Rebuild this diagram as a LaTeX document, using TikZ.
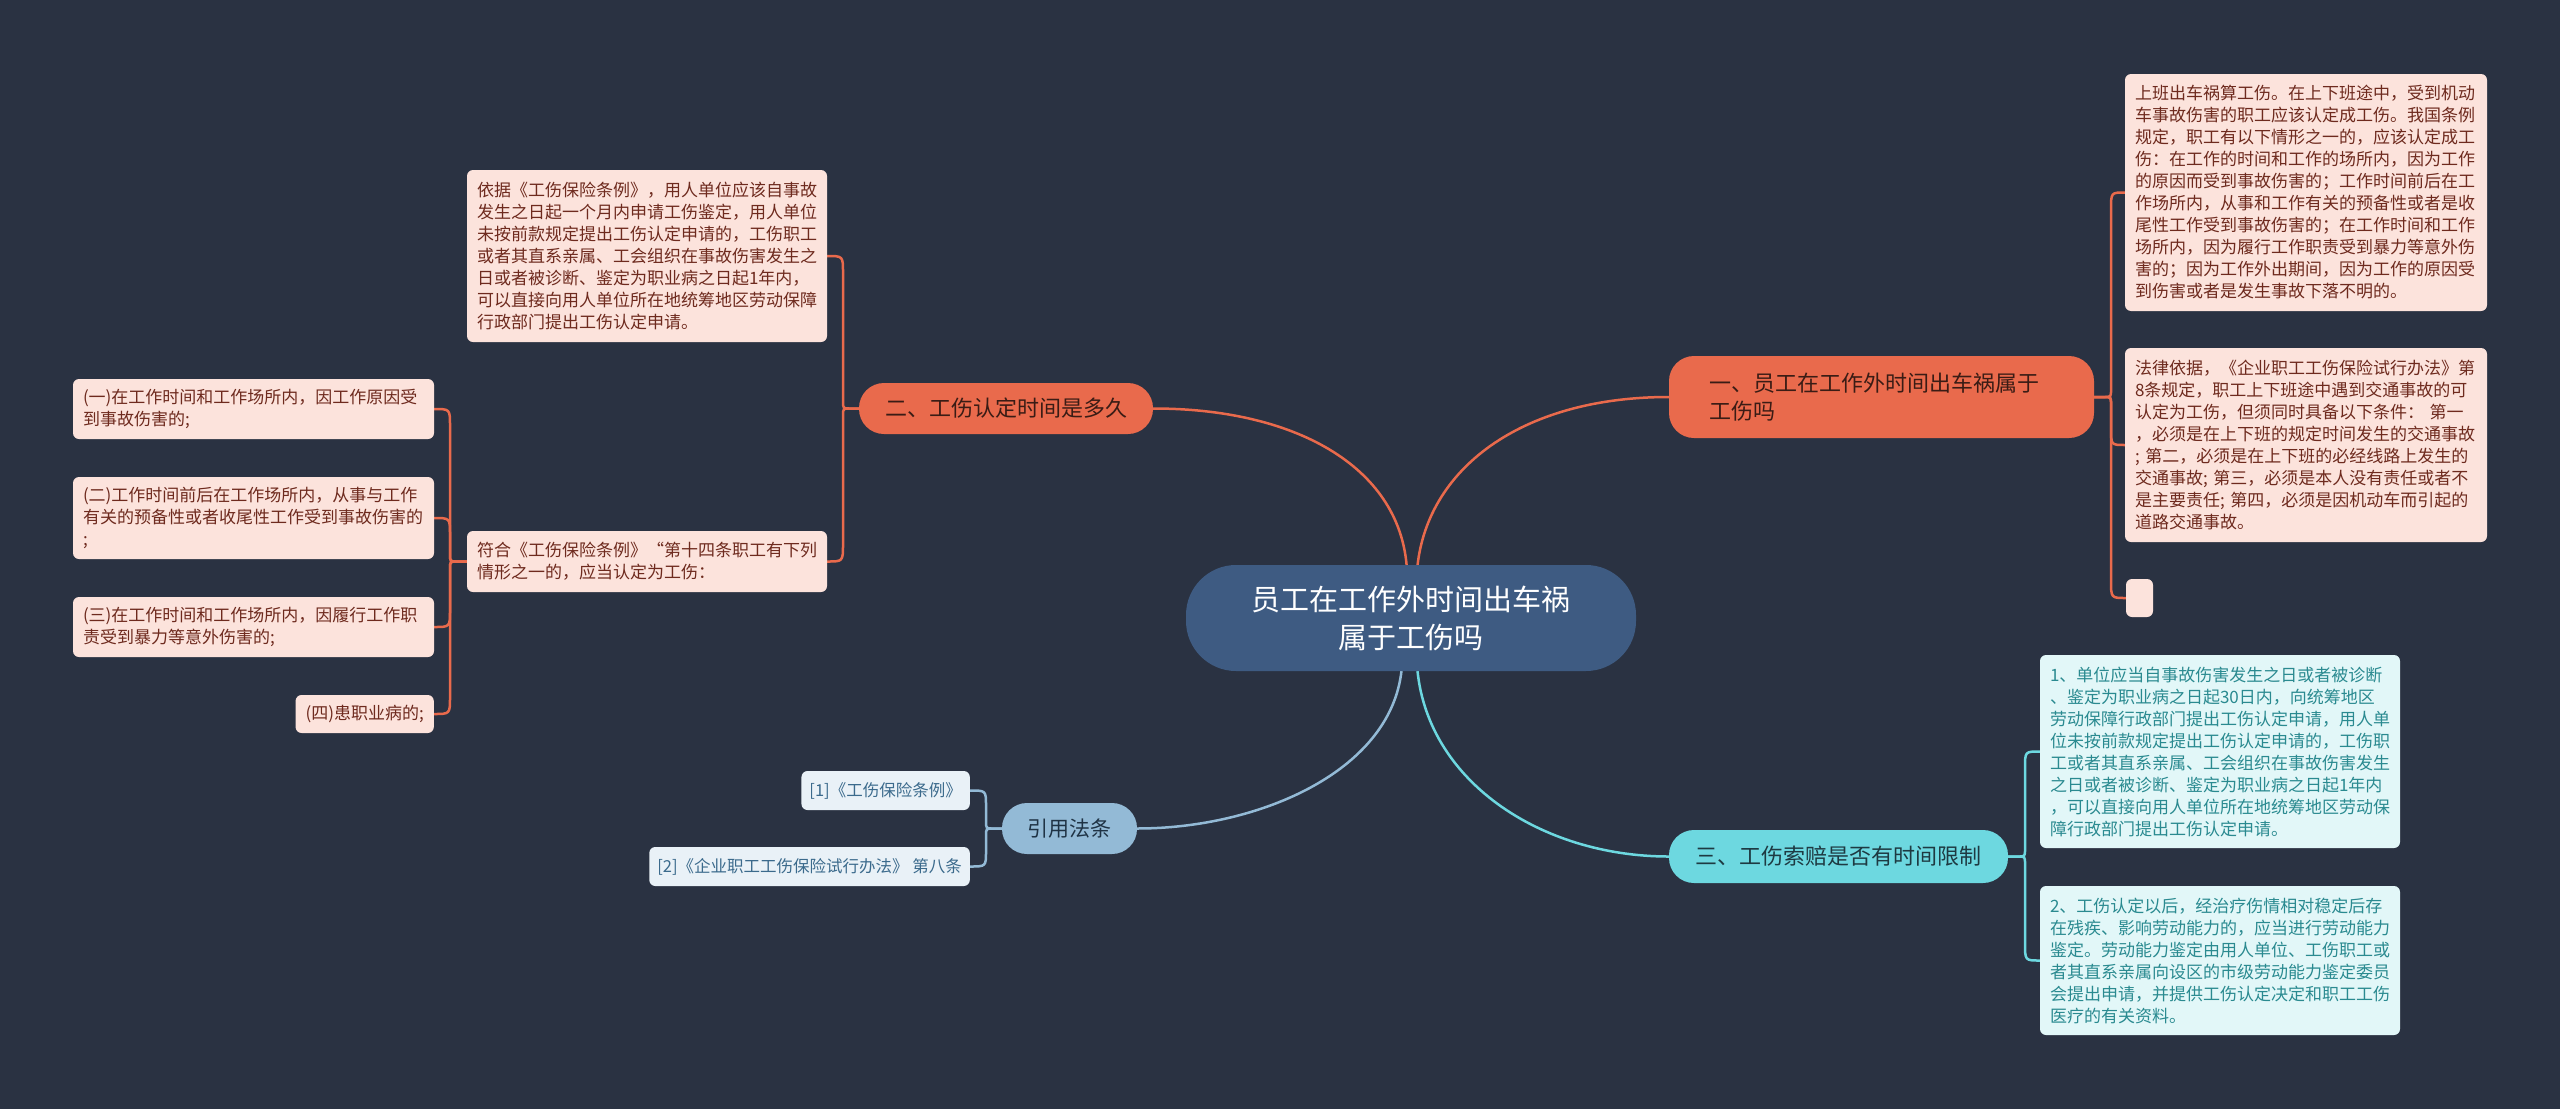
\documentclass[tikz,border=0pt]{standalone}
\usepackage{fontspec}
\newfontfamily\cjk{Noto Sans CJK SC}
\usetikzlibrary{calc}
\definecolor{bgc}{HTML}{2A3242}
\definecolor{cfill}{HTML}{3E5B82}
\definecolor{oc}{HTML}{E96A4C}
\definecolor{ofill}{HTML}{FCE3DC}
\definecolor{otext}{HTML}{6E2A1E}
\definecolor{obtext}{HTML}{3A1C15}
\definecolor{cc}{HTML}{6DD8E0}
\definecolor{cfillb}{HTML}{E2F7F8}
\definecolor{ctext}{HTML}{2A8A90}
\definecolor{cbtext}{HTML}{1E3A42}
\definecolor{bc}{HTML}{93BAD6}
\definecolor{bfill}{HTML}{E9F1F7}
\definecolor{btext}{HTML}{3B6A8C}
\definecolor{bbtext}{HTML}{1F3345}
\pgfdeclarelayer{bgl}
\pgfdeclarelayer{lnl}
\pgfsetlayers{bgl,lnl,main}
\tikzset{
  leaf/.style={font={\cjk\fontsize{17}{22}\selectfont}, align=left, inner xsep=10pt, inner ysep=4pt, rounded corners=6pt},
  oleaf/.style={leaf, fill=ofill, text=otext},
  cleaf/.style={leaf, fill=cfillb, text=ctext},
  bleaf/.style={leaf, fill=bfill, text=btext, font={\cjk\fontsize{16.5}{21}\selectfont}, inner xsep=8pt},
  branch/.style={font={\cjk\fontsize{22}{28}\selectfont}, inner sep=0pt},
  obranch/.style={branch, fill=oc, text=obtext, rounded corners=25pt},
  cbranch/.style={branch, fill=cc, text=cbtext, rounded corners=25pt},
  bbranch/.style={branch, fill=bc, text=bbtext, rounded corners=25pt},
  oline/.style={draw=oc, line width=2.5pt},
  cline/.style={draw=cc, line width=2.5pt},
  bline/.style={draw=bc, line width=2.5pt},
}
\begin{document}
\begin{tikzpicture}[x=1pt,y=-1pt]
\begin{pgfonlayer}{bgl}
\fill[bgc] (0,0) rectangle (2560,1109);
\end{pgfonlayer}
\useasboundingbox (0,0) rectangle (2560,1109);

% central
\node[fill=cfill, rounded corners=50pt, minimum width=450pt, minimum height=106pt, inner sep=0pt, align=center, text=white, font={\cjk\fontsize{29}{38}\selectfont}] (c) at (1411,618) {员工在工作外时间出车祸\\属于工伤吗};

% branches
\node[obranch, minimum width=425pt, minimum height=82pt, text width=345pt, inner xsep=40pt, align=left] (b1) at (1881.5,397) {一、员工在工作外时间出车祸属于\\工伤吗};
\node[obranch, minimum width=294pt, minimum height=51pt, align=center] (b2) at (1006,408.5) {二、工伤认定时间是多久};
\node[cbranch, minimum width=339pt, minimum height=53pt, align=center] (b3) at (1838.5,856.5) {三、工伤索赔是否有时间限制};
\node[bbranch, minimum width=135pt, minimum height=51pt, align=center, font={\cjk\fontsize{21}{26}\selectfont}] (b4) at (1069.5,828.5) {引用法条};

% branch 1 leaves
\node[oleaf, text width=342pt, minimum height=237pt] (r1) at (2306,192.5) {上班出车祸算工伤。在上下班途中，受到机动\\车事故伤害的职工应该认定成工伤。我国条例\\规定，职工有以下情形之一的，应该认定成工\\伤：在工作的时间和工作的场所内，因为工作\\的原因而受到事故伤害的；工作时间前后在工\\作场所内，从事和工作有关的预备性或者是收\\尾性工作受到事故伤害的；在工作时间和工作\\场所内，因为履行工作职责受到暴力等意外伤\\害的；因为工作外出期间，因为工作的原因受\\到伤害或者是发生事故下落不明的。};
\node[oleaf, text width=342pt, minimum height=194pt] (r2) at (2306,445) {法律依据，《企业职工工伤保险试行办法》第\\8条规定，职工上下班途中遇到交通事故的可\\认定为工伤，但须同时具备以下条件： 第一\\，必须是在上下班的规定时间发生的交通事故\\; 第二，必须是在上下班的必经线路上发生的\\交通事故; 第三，必须是本人没有责任或者不\\是主要责任; 第四，必须是因机动车而引起的\\道路交通事故。};
\node[fill=ofill, rounded corners=6pt, minimum width=27pt, minimum height=38pt, inner sep=0pt] (r3) at (2139.5,598) {};

% branch 2 leaves
\node[oleaf, text width=340pt, minimum height=172pt] (la) at (647,256) {依据《工伤保险条例》，用人单位应该自事故\\发生之日起一个月内申请工伤鉴定，用人单位\\未按前款规定提出工伤认定申请的，工伤职工\\或者其直系亲属、工会组织在事故伤害发生之\\日或者被诊断、鉴定为职业病之日起1年内，\\可以直接向用人单位所在地统筹地区劳动保障\\行政部门提出工伤认定申请。};
\node[oleaf, text width=340pt, minimum height=61pt] (lb) at (647,561.5) {符合《工伤保险条例》“第十四条职工有下列\\情形之一的，应当认定为工伤：};
\node[oleaf, text width=341pt, minimum height=60pt] (s1) at (253.5,409) {(一)在工作时间和工作场所内，因工作原因受\\到事故伤害的;};
\node[oleaf, text width=341pt, minimum height=82pt] (s2) at (253.5,518) {(二)工作时间前后在工作场所内，从事与工作\\有关的预备性或者收尾性工作受到事故伤害的\\;};
\node[oleaf, text width=341pt, minimum height=60pt] (s3) at (253.5,627) {(三)在工作时间和工作场所内，因履行工作职\\责受到暴力等意外伤害的;};
\node[oleaf, minimum height=38pt, anchor=east] (s4) at (434,714) {(四)患职业病的;};

% branch 3 leaves
\node[cleaf, text width=340pt, minimum height=193pt] (t1) at (2220,751.5) {1、单位应当自事故伤害发生之日或者被诊断\\、鉴定为职业病之日起30日内，向统筹地区\\劳动保障行政部门提出工伤认定申请，用人单\\位未按前款规定提出工伤认定申请的，工伤职\\工或者其直系亲属、工会组织在事故伤害发生\\之日或者被诊断、鉴定为职业病之日起1年内\\，可以直接向用人单位所在地统筹地区劳动保\\障行政部门提出工伤认定申请。};
\node[cleaf, text width=340pt, minimum height=149pt] (t2) at (2220,960.5) {2、工伤认定以后，经治疗伤情相对稳定后存\\在残疾、影响劳动能力的，应当进行劳动能力\\鉴定。劳动能力鉴定由用人单位、工伤职工或\\者其直系亲属向设区的市级劳动能力鉴定委员\\会提出申请，并提供工伤认定决定和职工工伤\\医疗的有关资料。};

% branch 4 leaves
\node[bleaf, minimum height=39pt, anchor=east] (q1) at (970,790.5) {[1]《工伤保险条例》};
\node[bleaf, minimum height=39pt, anchor=east] (q2) at (970,866.5) {[2]《企业职工工伤保险试行办法》 第八条};

\begin{pgfonlayer}{lnl}
% main curves
\draw[oline] ($(c.north)+(-4,6)$) .. controls (1402,470) and (1300,408.5) .. (b2.east);
\draw[oline] ($(c.north)+(6,6)$) .. controls (1425,470) and (1520,397) .. (b1.west);
\draw[bline] ($(c.south)+(-9,-6)$) .. controls (1395,770) and (1260,828.5) .. (b4.east);
\draw[cline] ($(c.south)+(6,-6)$) .. controls (1425,780) and (1540,856.5) .. (b3.west);
% branch 1 brackets
\draw[oline] (b1.east) -- (2104,397) .. controls (2111,397) .. (2111,390) -- (2111,210) .. controls (2111,192.5) .. (r1.west);
\draw[oline] (b1.east) -- (2104,397) .. controls (2111,397) .. (2111,404) -- (2111,428) .. controls (2111,445) .. (r2.west);
\draw[oline] (b1.east) -- (2104,397) .. controls (2111,397) .. (2111,404) -- (2111,580) .. controls (2111,598) .. (r3.west);
% branch 2 brackets
\draw[oline] (b2.west) -- (850,408.5) .. controls (843,408.5) .. (843,401) -- (843,273) .. controls (843,256) .. (la.east);
\draw[oline] (b2.west) -- (850,408.5) .. controls (843,408.5) .. (843,416) -- (843,544) .. controls (843,561.5) .. (lb.east);
% box B brackets
\draw[oline] (lb.west) -- (457,561.5) .. controls (450,561.5) .. (450,554) -- (450,426) .. controls (450,409) .. (s1.east);
\draw[oline] (lb.west) -- (457,561.5) .. controls (450,561.5) .. (450,554) -- (450,535) .. controls (450,518) .. (s2.east);
\draw[oline] (lb.west) -- (457,561.5) .. controls (450,561.5) .. (450,569) -- (450,610) .. controls (450,627) .. (s3.east);
\draw[oline] (lb.west) -- (457,561.5) .. controls (450,561.5) .. (450,569) -- (450,697) .. controls (450,714) .. (s4.east);
% branch 3 brackets
\draw[cline] (b3.east) -- (2018,856.5) .. controls (2025,856.5) .. (2025,849) -- (2025,768) .. controls (2025,751.5) .. (t1.west);
\draw[cline] (b3.east) -- (2018,856.5) .. controls (2025,856.5) .. (2025,864) -- (2025,943) .. controls (2025,960.5) .. (t2.west);
% branch 4 brackets
\draw[bline] (b4.west) -- (993,828.5) .. controls (986,828.5) .. (986,821) -- (986,806) .. controls (986,790.5) .. (q1.east);
\draw[bline] (b4.west) -- (993,828.5) .. controls (986,828.5) .. (986,836) -- (986,851) .. controls (986,866.5) .. (q2.east);
\end{pgfonlayer}
\end{tikzpicture}
\end{document}
